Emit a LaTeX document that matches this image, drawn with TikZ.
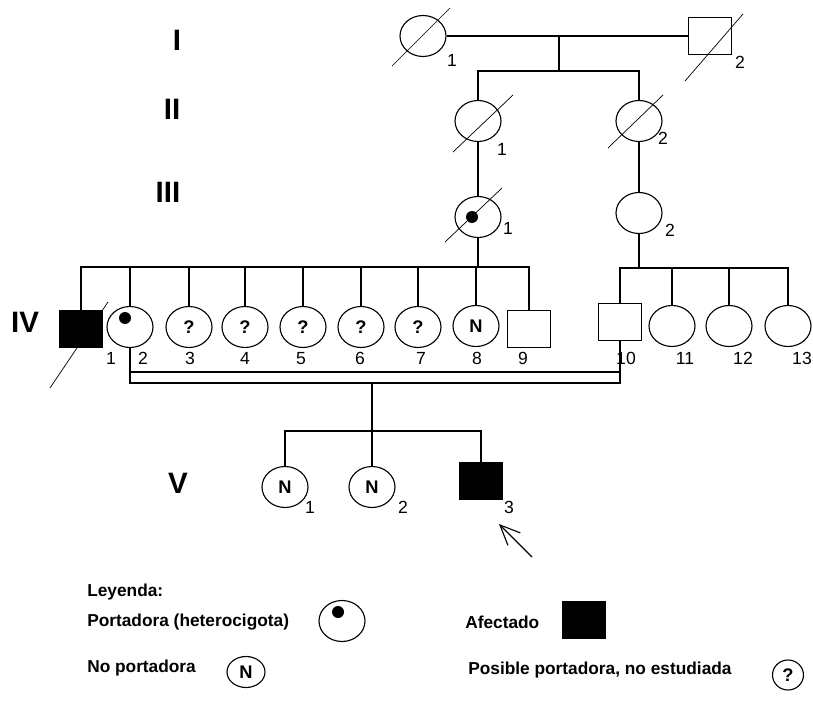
\documentclass[tikz,border=0pt]{standalone}
\usepackage{fontspec}
\setmainfont{Liberation Sans}
\usepackage{tikz}
\usetikzlibrary{calc,arrows.meta,shapes.geometric}
\tikzset{
  line/.style={draw=black, line width=0.8pt},
  fem/.style={ellipse, draw=black, line width=0.8pt, minimum width=11.5mm, minimum height=10.25mm, inner sep=0pt, font=\fontsize{13}{14}\selectfont\bfseries},
  male/.style={rectangle, draw=black, line width=0.8pt, minimum width=10.75mm, minimum height=9.25mm, inner sep=0pt},
  aff/.style={male, fill=black},
  dot/.style={circle, fill=black, inner sep=0pt, minimum size=3mm},
  slash/.style={draw=black, line width=0.5pt},
  gen/.style={font=\fontsize{21}{22}\selectfont\bfseries},
  num/.style={font=\fontsize{12.5}{13}\selectfont, inner sep=0pt, text height=9pt, text depth=0pt},
  leg/.style={font=\fontsize{12.3}{14}\selectfont\bfseries, anchor=west, inner sep=0pt},
}
\begin{document}
\begin{tikzpicture}[x=0.25mm, y=-0.25mm]
  \useasboundingbox (0,0) rectangle (813,708);
  % generation labels
  \node[gen] (gI) at (177,40) {I};
  \node[gen] (gII) at (172,109) {II};
  \node[gen] (gIII) at (168,192) {III};
  \node[gen] (gIV) at (25,322) {IV};
  \node[gen] (gV) at (178,483) {V};

  % generation I
  \node[fem] (I1) at (423,36) {};
  \node[male] (I2) at (710,36) {};
  \node[num] at (452,60) {1};
  \node[num] at (740,62) {2};
  \draw[line] (I1.east) -- (I2.west);
  \coordinate (m1) at (559,36);
  \coordinate (s1) at (559,71);

  % generation II
  \node[fem] (II1) at (478,121) {};
  \node[fem] (II2) at (639,121) {};
  \node[num] at (502,149) {1};
  \node[num] at (663,138) {2};
  \draw[line] (m1) -- (s1);
  \draw[line] (II1.north) |- (s1) -| (II2.north);

  % generation III
  \node[fem] (III1) at (478,217) {};
  \node[dot] (d31) at ($(III1.center)+(-6,0)$) {};
  \node[fem] (III2) at (639,213) {};
  \node[num] at (508,228) {1};
  \node[num] at (670,230) {2};
  \draw[line] (II1.south) -- (III1.north);
  \draw[line] (II2.south) -- (III2.north);

  % generation IV
  \node[aff] (IV1) at (81,329) {};
  \node[fem] (IV2) at (130,327) {};
  \node[dot] (d42) at ($(IV2.center)+(-5,-9)$) {};
  \node[fem] (IV3) at (189,327) {?};
  \node[fem] (IV4) at (245,327) {?};
  \node[fem] (IV5) at (303,327) {?};
  \node[fem] (IV6) at (361,327) {?};
  \node[fem] (IV7) at (418,327) {?};
  \node[fem] (IV8) at (476,326) {N};
  \node[male] (IV9) at (529,329) {};
  \node[male] (IV10) at (620,322) {};
  \node[fem] (IV11) at (672,326) {};
  \node[fem] (IV12) at (729,326) {};
  \node[fem] (IV13) at (788,326) {};
  \foreach \k/\x in {1/111,2/143,3/190,4/245,5/301,6/360,7/421,8/477,9/523,10/626,11/685,12/743,13/802}
    \node[num] at (\x,358) {\k};
  \coordinate (s4) at (478,267);
  \coordinate (s4b) at (639,268);
  \draw[line] (III1.south) -- (s4);
  \draw[line] (IV1.north) |- (s4) -| (IV9.north);
  \foreach \k in {2,...,8}
    \draw[line] (IV\k.north) -- (IV\k.north |- s4);
  \draw[line] (III2.south) -- (s4b);
  \draw[line] (IV10.north) |- (s4b) -| (IV13.north);
  \foreach \k in {11,12}
    \draw[line] (IV\k.north) -- (IV\k.north |- s4b);

  % consanguineous marriage IV-2 x IV-10
  \coordinate (mL) at (130,383);
  \coordinate (mR) at (620,383);
  \coordinate (mLu) at (130,372);
  \coordinate (mRu) at (620,372);
  \draw[line] (IV2.south) -- (mL) -- (mR) -- (IV10.south);
  \draw[line] (mLu) -- (mRu);
  \coordinate (m5) at (372,383);
  \coordinate (s5) at (372,431);

  % generation V
  \node[fem] (V1) at (285,487) {N};
  \node[fem] (V2) at (372,487) {N};
  \node[aff] (V3) at (481,481) {};
  \node[num] at (310,507) {1};
  \node[num] at (403,507) {2};
  \node[num] at (509,507) {3};
  \draw[line] (m5) -- (s5);
  \draw[line] (V1.north) |- (s5) -| (V3.north);
  \draw[line] (s5) -- (V2.north);
  % proband
  \coordinate (pbA) at (532,557);
  \coordinate (pbB) at (499,524);
  \draw[line, -{Straight Barb[length=5mm,width=4.4mm]}] (pbA) -- (pbB);

  % deceased
  \foreach \n/\a/\b/\c/\d in {I1/-31/30/27/-28, I2/-25/45/33/-22, II1/-25/31/35/-26, II2/-31/27/24/-26, III1/-33/25/24/-29, IV1/-31/59/27/-27}
    \draw[slash] ($(\n.center)+(\a,\b)$) -- ($(\n.center)+(\c,\d)$);

  % legend
  \node[leg] (leyenda) at (87,592) {Leyenda:};
  \node[leg] (lport) at (87,622) {Portadora (heterocigota)};
  \node[fem] (cport) at (342,621) {};
  \node[dot] (dport) at ($(cport.center)+(-4,-9)$) {};
  \node[leg] (lno) at (87,668) {No portadora};
  \node[fem, minimum width=9.5mm, minimum height=7.75mm] (cno) at (246,672) {N};
  \node[leg] (lafec) at (465,622) {Afectado};
  \node[aff, minimum width=10.5mm, minimum height=9mm] (cafec) at (584,620) {};
  \node[leg] (lpos) at (468,670) {Posible portadora, no estudiada};
  \node[fem, minimum width=7.75mm, minimum height=7.5mm] (cpos) at (788,675) {?};
\end{tikzpicture}
\end{document}
